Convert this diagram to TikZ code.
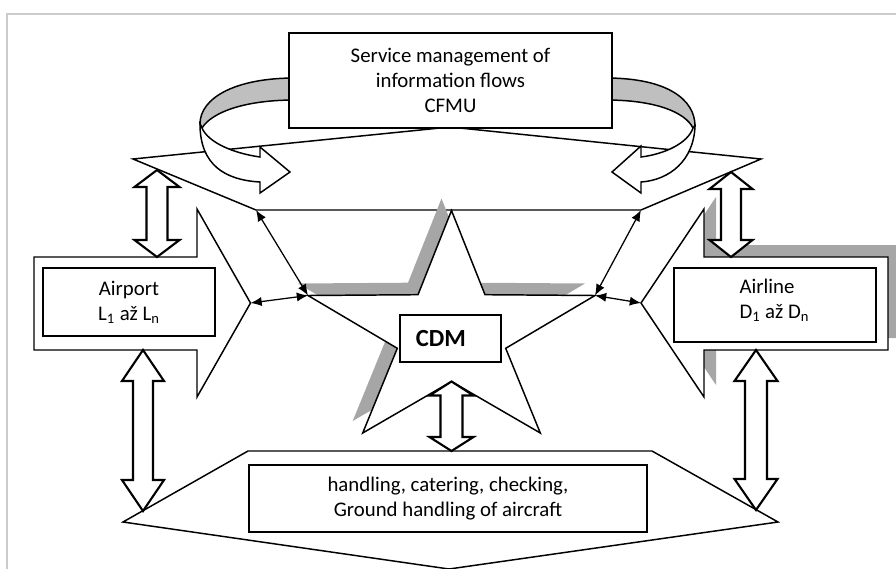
\documentclass[tikz,border=0pt]{standalone}
\usepackage{fontspec}
\setmainfont{Carlito}
\usepackage{tikz}
\usetikzlibrary{positioning, arrows.meta, calc, shadows}

% vertical hollow arrow with a head at both ends
\newcommand{\dblarrow}[5]{%
  \draw[blockarrow] (#1) -- ($(#1)+(#3,#5)$) -- ($(#1)+(#4,#5)$)
    -- ($(#2)+(#4,-#5)$) -- ($(#2)+(#3,-#5)$) -- (#2)
    -- ($(#2)+(-#3,-#5)$) -- ($(#2)+(-#4,-#5)$)
    -- ($(#1)+(-#4,#5)$) -- ($(#1)+(-#3,#5)$) -- cycle;}

\begin{document}
\begin{tikzpicture}[x=0.025cm, y=-0.025cm, line join=miter,
    part/.style={draw, fill=white, line width=1.05pt},
    band/.style={draw, fill=black!25, line width=1.05pt},
    gshadow/.style={drop shadow={shadow xshift=#1, shadow yshift=0.3cm, fill=black!35, opacity=1}},
    txt/.style={font=\fontsize{14.8}{17.8}\selectfont, align=center},
    box/.style={draw, fill=white, line width=1.05pt, inner sep=0pt, txt},
    blockarrow/.style={draw, fill=white, line width=1.5pt},
    link/.style={line width=0.9pt, {Latex[length=2.8mm,width=2.3mm]}-{Latex[length=2.8mm,width=2.3mm]}}]

\useasboundingbox (0,0) rectangle (896,568);
\draw[black!20, line width=0.8pt] (7,600) |- (920,14);

% points used by the connectors
\coordinate (cornerL) at (133,159);
\coordinate (peak) at (450,127);
\coordinate (cornerR) at (761,159);
\coordinate (tlIn) at (256,210);
\coordinate (trIn) at (641,210);
\coordinate (apTip) at (250.5,303);
\coordinate (alTip) at (641,303);
\coordinate (starL) at (308,295.5);
\coordinate (starR) at (595,295.5);
\coordinate (starB) at (451.5,381.5);
\coordinate (apUp) at (157,170);
\coordinate (apTop) at (157,257);
\coordinate (alUp) at (731,172);
\coordinate (alTop) at (731,257);
\coordinate (apBot) at (143,350);
\coordinate (alBot) at (756,350);
\coordinate (gndL) at (143,511);
\coordinate (gndR) at (756,510);
\coordinate (gndTop) at (451.5,451);

% upper part
\draw[part] (cornerL) -- (peak) -- (cornerR) -- (trIn) -- (tlIn) -- cycle;

% curved arrows round the CFMU box
\draw[band] (295,78) .. controls (235,78) and (200,98) .. (200,124) -- (202,128)
  .. controls (212,112) and (245,100) .. (295,100) -- cycle;
\draw[part] (200,124) .. controls (200,165) and (225,180) .. (260,182) -- (260,193)
  -- (290,172) -- (260,147) -- (260,157) .. controls (232,153) and (208,142) .. (202,128) -- cycle;
\draw[band] (606,78) .. controls (668,78) and (695,100) .. (695,126) -- (693,128)
  .. controls (685,112) and (655,100) .. (606,100) -- cycle;
\draw[part] (695,126) .. controls (694,160) and (670,180) .. (641,182) -- (641,193)
  -- (612,172) -- (641,146) -- (641,157) .. controls (665,154) and (688,143) .. (693,128) -- cycle;

\node[box, minimum width=8.075cm, minimum height=2.375cm] (cfmu) at (450.5,80.5)
  {Service management of\\information flows\\CFMU};

% airport and airline
\draw[part] (34,257) -- (197,257) -- (197,209) -- (apTip) -- (197,397) -- (197,350) -- (34,350) -- cycle;
\draw[part, gshadow=0.3cm] (888,257) -- (704,257) -- (704,209) -- (alTip) -- (704,397) -- (704,350) -- (888,350) -- cycle;

% lower part
\draw[part] (123,522) -- (248,451) -- (652,451) -- (778,522) -- (449,569) -- cycle;

% CDM star
\draw[part, gshadow=-0.25cm] (451.5,210.5) -- (418,294.7) -- (starL) -- (397.3,348.3) -- (362.7,433)
  -- (starB) -- (540.3,433) -- (505.7,348.3) -- (starR) -- (485,294.7) -- cycle;
\node[box, minimum width=2.525cm, minimum height=1.175cm] (cdm) at (450.5,338.5) {};
\node[font=\fontsize{17.5}{20}\selectfont\bfseries] (cdmtxt) at ([xshift=-0.24cm]cdm.center) {CDM};

\draw[link] (starL) -- (tlIn);
\draw[link] (starL) -- (apTip);
\draw[link] (starR) -- (trIn);
\draw[link] (starR) -- (alTip);

\dblarrow{apUp}{apTop}{22.5}{10.5}{17}
\dblarrow{alUp}{alTop}{21.5}{10}{17}
\dblarrow{apBot}{gndL}{21}{10}{31}
\dblarrow{alBot}{gndR}{21.5}{11}{31}
\dblarrow{starB}{gndTop}{22}{11}{14}

\node[box, minimum width=4.3cm, minimum height=1.7cm] (airport) at (129,302)
  {Airport\\L\textsubscript{1} až L\textsubscript{n}};
\node[box, minimum width=5.05cm, minimum height=1.85cm] (airline) at (775,305) {};
\node[txt, align=left, anchor=west, inner sep=0pt] (airlinetxt) at ([xshift=1.65cm, yshift=0.12cm]airline.west)
  {Airline\\D\textsubscript{1} až D\textsubscript{n}};
\node[box, minimum width=9.95cm, minimum height=1.675cm] (handling) at (448,498.5)
  {handling, catering, checking,\\Ground handling of aircraft};
\end{tikzpicture}
\end{document}
